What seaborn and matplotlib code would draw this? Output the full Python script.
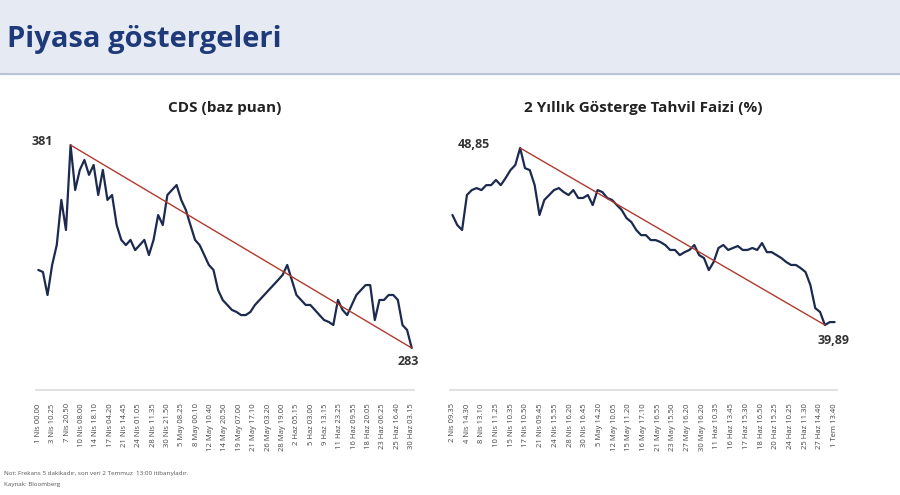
import matplotlib
matplotlib.use("Agg")
import matplotlib.pyplot as plt
import seaborn as sns
import numpy as np
import pandas as pd

cds_px = [270,272,295,265,245,200,230,160,190,170,160,175,165,195,170,200,195,225,240,245,240,250,245,240,255,240,215,225,195,190,185,200,210,225,240,245,255,265,270,290,300,305,310,312,315,315,312,305,300,295,290,285,280,275,265,280,295,300,305,305,310,315,320,322,325,300,310,315,305,295,290,285,285,320,300,300,295,295,300,325,330,338]
cds = [round(283 + (348 - y) * 0.483, 1) for y in cds_px]
cds[7] = 381.0
cds[-1] = 283.0
bond_px = [215,225,230,195,190,188,190,185,185,180,185,178,170,165,162,168,170,185,215,200,195,190,188,192,195,190,198,198,195,205,190,192,198,200,205,210,218,222,230,235,235,240,240,242,245,250,250,255,252,250,245,255,258,270,262,248,245,250,248,246,250,250,248,250,243,252,252,255,258,262,265,265,268,272,285,308,312,325,322,322]
bond = [round(39.89 + (325 - y) * 0.0506, 2) for y in bond_px]
bond[14] = 48.85
bond[-3] = 39.89

cds_ticks = ["1 Nis 00.00","3 Nis 10.25","7 Nis 20.50","10 Nis 08.00","14 Nis 18.10","17 Nis 04.20","21 Nis 14.45","24 Nis 01.05","28 Nis 11.35","30 Nis 21.50","5 May 08.25","8 May 00.10","12 May 10.40","14 May 20.50","19 May 07.00","21 May 17.10","26 May 03.20","28 May 19.00","2 Haz 05.15","5 Haz 03.00","9 Haz 13.15","11 Haz 23.25","16 Haz 09.55","18 Haz 20.05","23 Haz 06.25","25 Haz 16.40","30 Haz 03.15"]
bond_ticks = ["2 Nis 09.35","4 Nis 14.30","8 Nis 13.10","10 Nis 11.25","15 Nis 10.35","17 Nis 10.50","21 Nis 09.45","24 Nis 15.55","28 Nis 16.20","30 Nis 16.45","5 May 14.20","12 May 10.05","15 May 11.20","16 May 17.10","21 May 16.55","23 May 15.50","27 May 16.20","30 May 16.20","11 Haz 10.35","16 Haz 13.45","17 Haz 15.30","18 Haz 16.50","20 Haz 15.25","24 Haz 10.25","25 Haz 11.30","27 Haz 14.40","1 Tem 13.40"]

sns.set_theme(style="white")
plt.rcParams['font.family'] = ['Open Sans', 'DejaVu Sans']
navy = "#1c2a4f"
fig = plt.figure(figsize=(9, 4.95), dpi=100)
fig.patches.append(plt.Rectangle((0, 0.85), 1, 0.15, transform=fig.transFigure, color="#e6ebf3", zorder=0))
fig.lines.append(plt.Line2D([0, 1], [0.85, 0.85], transform=fig.transFigure, color="#b8c4d8", lw=1.5))
fig.text(0.008, 0.92, "Piyasa göstergeleri", fontsize=21, fontweight="bold", color="#1f3a7a", va="center")

def panel(rect, vals, ticks, title, i0, i1, l0, l1, off0, off1, ylim):
    ax = fig.add_axes(rect)
    df = pd.DataFrame({"x": np.arange(len(vals)), "y": vals})
    sns.lineplot(data=df, x="x", y="y", ax=ax, color=navy, lw=1.6)
    ax.plot([i0, i1], [vals[i0], vals[i1]], color="#b03a2e", lw=1)
    ax.annotate(l0, (i0, vals[i0]), xytext=off0, textcoords="offset points", fontsize=9, fontweight="bold", color="#333")
    ax.annotate(l1, (i1, vals[i1]), xytext=off1, textcoords="offset points", fontsize=9, fontweight="bold", color="#333")
    ax.set_xticks(np.linspace(0, len(vals) - 1, len(ticks)))
    ax.set_xticklabels(ticks, rotation=90, fontsize=5.5, color="#444")
    ax.set_yticks([])
    ax.set_xlabel(""); ax.set_ylabel("")
    for s in ["left", "right", "top"]:
        ax.spines[s].set_visible(False)
    ax.spines["bottom"].set_color("#dddddd")
    ax.set_xlim(-0.5, len(vals) - 0.5)
    ax.set_ylim(*ylim)
    ax.set_title(title, fontsize=11, fontweight="bold", color="#222", pad=20)
    return ax

panel([0.04, 0.212, 0.42, 0.505], cds, cds_ticks, "CDS (baz puan)", 7, len(cds) - 1, "381", "283", (-28, 0), (-10, -12), (262.7, 383.4))
panel([0.5, 0.212, 0.43, 0.505], bond, bond_ticks, "2 Yıllık Gösterge Tahvil Faizi (%)", 14, len(bond) - 3, "48,85", "39,89", (-45, 0), (-5, -14), (36.6, 49.25))
fig.text(0.005, 0.04, "Not: Frekans 5 dakikadır, son veri 2 Temmuz  13:00 itibarıyladır.", fontsize=4.5, color="#555")
fig.text(0.005, 0.018, "Kaynak: Bloomberg", fontsize=4.5, color="#555")
fig.savefig("out.png", dpi=100)
